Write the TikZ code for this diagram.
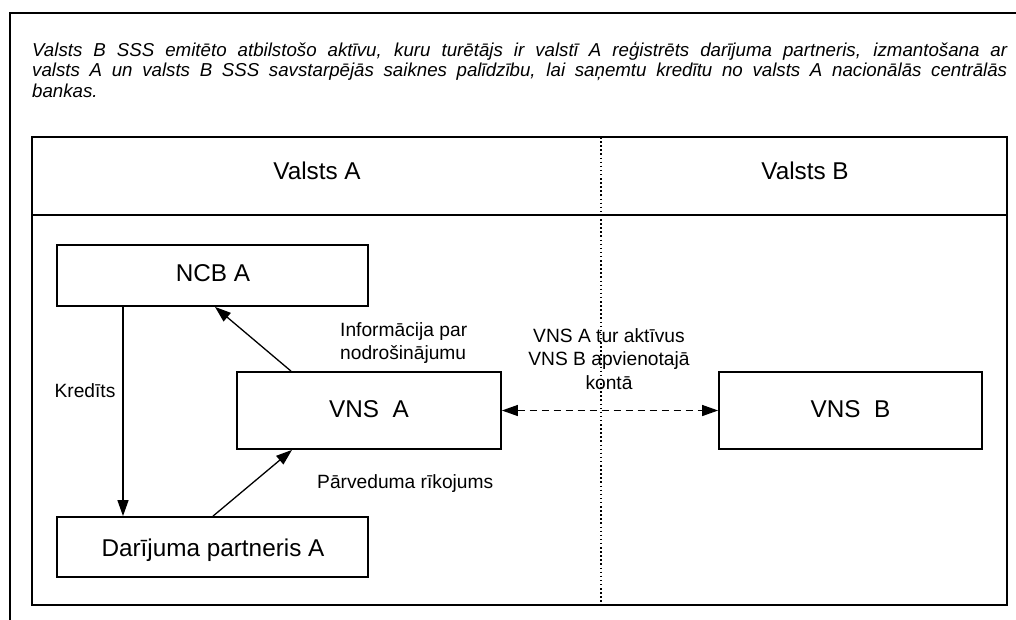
\documentclass[tikz,border=0pt]{standalone}
\usepackage{fontspec}
\setmainfont{Liberation Sans}
\usetikzlibrary{arrows.meta}
\begin{document}
\begin{tikzpicture}[x=1pt,y=-1pt,
  frameline/.style={line width=2pt},
  tabline/.style={line width=2pt},
  boxtext/.style={font=\fontsize{24.3}{28}\selectfont,inner sep=0pt},
  lbl/.style={font=\fontsize{19.2}{23.3}\selectfont,inner sep=0pt},
  arr/.style={line width=1.3pt,-{Triangle[length=16pt,width=11pt]}},
  darr/.style={line width=1.3pt,dash pattern=on 7pt off 5pt,{Triangle[length=16pt,width=11pt]}-{Triangle[length=16pt,width=11pt]}}
]
\useasboundingbox[fill=white] (0,0) rectangle (1016,619);
% outer frame (top and left)
\draw[frameline] (10,625) -- (10,12.7) -- (1020,12.7);
% title
\node[anchor=base west,inner sep=0pt,text width=975pt,align=justify,font=\fontsize{18.7}{20.7}\selectfont\itshape] (title) at (32,56)
 {Valsts B SSS emitēto atbilstošo aktīvu, kuru turētājs ir valstī A reģistrēts darījuma partneris, izmantošana ar\linebreak valsts A un valsts B SSS savstarpējās saiknes palīdzību, lai saņemtu kredītu no valsts A nacionālās centrālās\linebreak bankas.};
% table
\draw[tabline] (32,137) rectangle (1007,605);
\draw[tabline] (32,215) -- (1007,215);
\draw[line width=1.5pt,dash pattern=on 1.5pt off 2.6pt] (601,137) -- (601,605);
\node[boxtext,anchor=base] (hA) at (317,179) {Valsts A};
\node[boxtext,anchor=base] (hB) at (805,179) {Valsts B};
% boxes
\node[draw,line width=1.8pt,minimum width=311pt,minimum height=61pt,inner sep=0pt] (ncb) at (212.5,275.5) {};
\node[boxtext,anchor=base] (tncb) at (213,281.5) {NCB A};
\node[draw,line width=1.8pt,minimum width=264pt,minimum height=77pt,inner sep=0pt] (vnsa) at (369,410.5) {};
\node[boxtext,anchor=base] (tvnsa) at (369,417) {VNS\ \ A};
\node[draw,line width=1.8pt,minimum width=311pt,minimum height=60pt,inner sep=0pt] (dar) at (212.5,547) {};
\node[boxtext,anchor=base] (tdar) at (213,556) {Darījuma partneris A};
\node[draw,line width=1.8pt,minimum width=263pt,minimum height=77pt,inner sep=0pt] (vnsb) at (850.5,410.5) {};
\node[boxtext,anchor=base] (tvnsb) at (850.5,417.5) {VNS\ \ B};
% connector helper coordinates
\coordinate (kx) at (123,0);
\coordinate (ia) at (291,0);
\coordinate (ib) at (215,0);
\coordinate (pa) at (213,0);
\coordinate (pb) at (292,0);
% connectors
\draw[arr] (ncb.south -| kx) -- (dar.north -| kx);
\draw[arr] (vnsa.north -| ia) -- (ncb.south -| ib);
\draw[arr] (dar.north -| pa) -- (vnsa.south -| pb);
\draw[darr] (vnsa.east) -- (vnsb.west);
% labels
\node[lbl,anchor=base] (lk) at (85,397) {Kredīts};
\node[lbl,anchor=base west,align=left] (li) at (340,359.5) {Informācija par\\nodrošinājumu};
\node[lbl,anchor=base west] (lp) at (317,488) {Pārveduma rīkojums};
\node[lbl,anchor=base,align=center] (lv) at (609,389) {VNS A tur aktīvus\\VNS B apvienotajā\\kontā};
\end{tikzpicture}
\end{document}
